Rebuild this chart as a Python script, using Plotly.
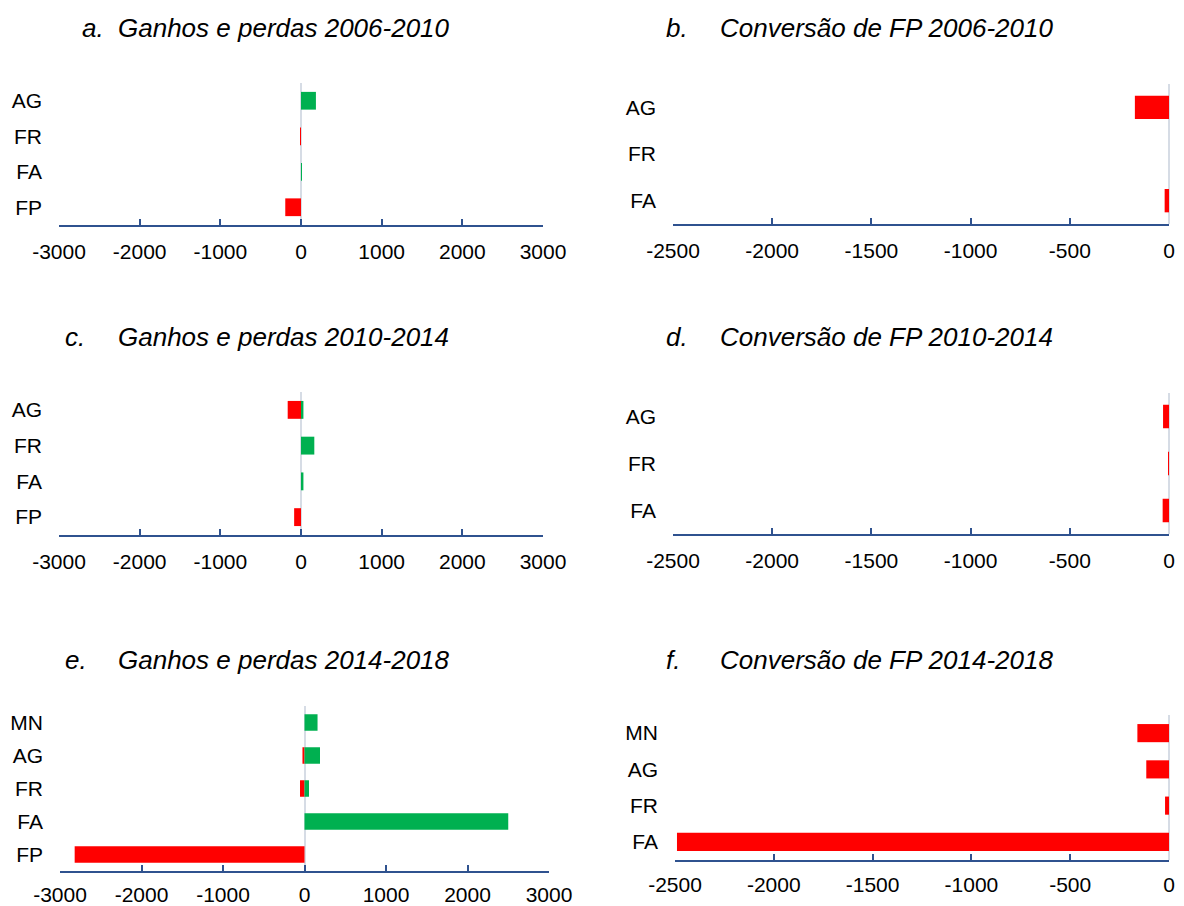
import plotly.graph_objects as go

W, H = 1184, 906
OFF = 8  # page body margin
FW, FH = W - OFF, H - OFF

# ---------------- data ----------------
cats_4 = ["AG", "FR", "FA", "FP"]
cats_5 = ["MN", "AG", "FR", "FA", "FP"]
cats_3 = ["AG", "FR", "FA"]
cats_4f = ["MN", "AG", "FR", "FA"]

# a. Ganhos e perdas 2006-2010
a_loss = [0, -12, 0, -195]
a_gain = [185, 0, 10, 0]
# c. Ganhos e perdas 2010-2014
c_loss = [-165, 0, 0, -85]
c_gain = [30, 165, 30, 0]
# e. Ganhos e perdas 2014-2018
e_loss = [0, -25, -55, 0, -2820]
e_gain = [160, 190, 55, 2500, 0]
# b. Conversão de FP 2006-2010
b_conv = [-172, 0, -22]
# d. Conversão de FP 2010-2014
d_conv = [-30, -3, -32]
# f. Conversão de FP 2014-2018
f_conv = [-160, -115, -20, -2490]

left_ticks = [-3000, -2000, -1000, 0, 1000, 2000, 3000]
right_ticks = [-2500, -2000, -1500, -1000, -500, 0]

titles = [
    ("a.", "Ganhos e perdas 2006-2010"),
    ("b.", "Conversão de FP 2006-2010"),
    ("c.", "Ganhos e perdas 2010-2014"),
    ("d.", "Conversão de FP 2010-2014"),
    ("e.", "Ganhos e perdas 2014-2018"),
    ("f.", "Conversão de FP 2014-2018"),
]

# ---------------- style ----------------
RED = "#FF0000"
GREEN = "#00B050"
AXIS = "#2F528F"
ZERO = "#D6DCE5"
FONT = "Liberation Sans, Arial, sans-serif"

def px_x(x):
    return (x - OFF) / FW

def px_y(y):
    return 1 - (y - OFF) / FH

# panel geometry in screen pixels: (x0, x1, ytop, ybottom)
geo = {
    1: (59, 543, 83, 225),     # a
    2: (673, 1169, 84, 224),   # b
    3: (59, 543, 392, 535),    # c
    4: (673, 1169, 393, 534),  # d
    5: (60, 549, 706, 871),    # e
    6: (675, 1169, 715, 860),  # f
}
standoff = {1: 7, 2: 7, 3: 7, 4: 7, 5: 4, 6: 5}

fig = go.Figure()

def add_bar(idx, cats, vals, color):
    sfx = "" if idx == 1 else str(idx)
    fig.add_trace(go.Bar(
        y=cats, x=vals, orientation="h", marker=dict(color=color, line=dict(width=0)),
        xaxis="x" + sfx, yaxis="y" + sfx, showlegend=False, width=0.5,
    ))

add_bar(1, cats_4, a_loss, RED)
add_bar(1, cats_4, a_gain, GREEN)
add_bar(2, cats_3, b_conv, RED)
add_bar(3, cats_4, c_loss, RED)
add_bar(3, cats_4, c_gain, GREEN)
add_bar(4, cats_3, d_conv, RED)
add_bar(5, cats_5, e_loss, RED)
add_bar(5, cats_5, e_gain, GREEN)
add_bar(6, cats_4f, f_conv, RED)

layout = dict(
    width=FW, height=FH, margin=dict(l=0, r=0, t=0, b=0, pad=0, autoexpand=False),
    paper_bgcolor="white", plot_bgcolor="white",
    barmode="relative", showlegend=False,
    font=dict(family=FONT, color="#000000", size=21),
)

cat_lists = {1: cats_4, 2: cats_3, 3: cats_4, 4: cats_3, 5: cats_5, 6: cats_4f}
for idx in range(1, 7):
    x0, x1, yt, yb = geo[idx]
    sfx = "" if idx == 1 else str(idx)
    left = idx in (1, 3, 5)
    ticks = left_ticks if left else right_ticks
    rng = [-3000, 3000] if left else [-2500, 0]
    layout["xaxis" + sfx] = dict(
        domain=[px_x(x0), px_x(x1)], anchor="y" + sfx, range=rng,
        tickmode="array", tickvals=ticks, ticktext=[str(t) for t in ticks],
        showgrid=False, showline=True, linecolor=AXIS, linewidth=2,
        ticks="inside", ticklen=6, tickwidth=2, tickcolor=AXIS,
        zeroline=True, zerolinecolor=ZERO, zerolinewidth=2,
        tickfont=dict(family=FONT, size=21, color="#000000"),
        ticklabelstandoff=standoff[idx], fixedrange=True, automargin=False,
    )
    cl = cat_lists[idx]
    layout["yaxis" + sfx] = dict(
        domain=[px_y(yb), px_y(yt)], anchor="x" + sfx,
        type="category", categoryorder="array", categoryarray=cl[::-1],
        range=[-0.5, len(cl) - 0.5],
        showgrid=False, showline=False, zeroline=False, ticks="",
        tickfont=dict(family=FONT, size=21, color="#000000"),
        ticklabelstandoff=16, fixedrange=True, automargin=False,
    )

annotations = []
title_pos = [
    (80, 116, 28), (664, 718, 28),
    (63, 116, 337), (664, 718, 337),
    (63, 116, 660), (664, 718, 660),
]
for (letter, text), (lx, tx, ty) in zip(titles, title_pos):
    for xx, tt in ((lx, letter), (tx, text)):
        annotations.append(dict(
            x=px_x(xx), y=px_y(ty), xref="paper", yref="paper",
            xanchor="left", yanchor="middle", showarrow=False, text=tt,
            font=dict(family=FONT, size=26, color="#000000", style="italic"),
        ))
layout["annotations"] = annotations

fig.update_layout(**layout)
fig.write_html("out.html")
